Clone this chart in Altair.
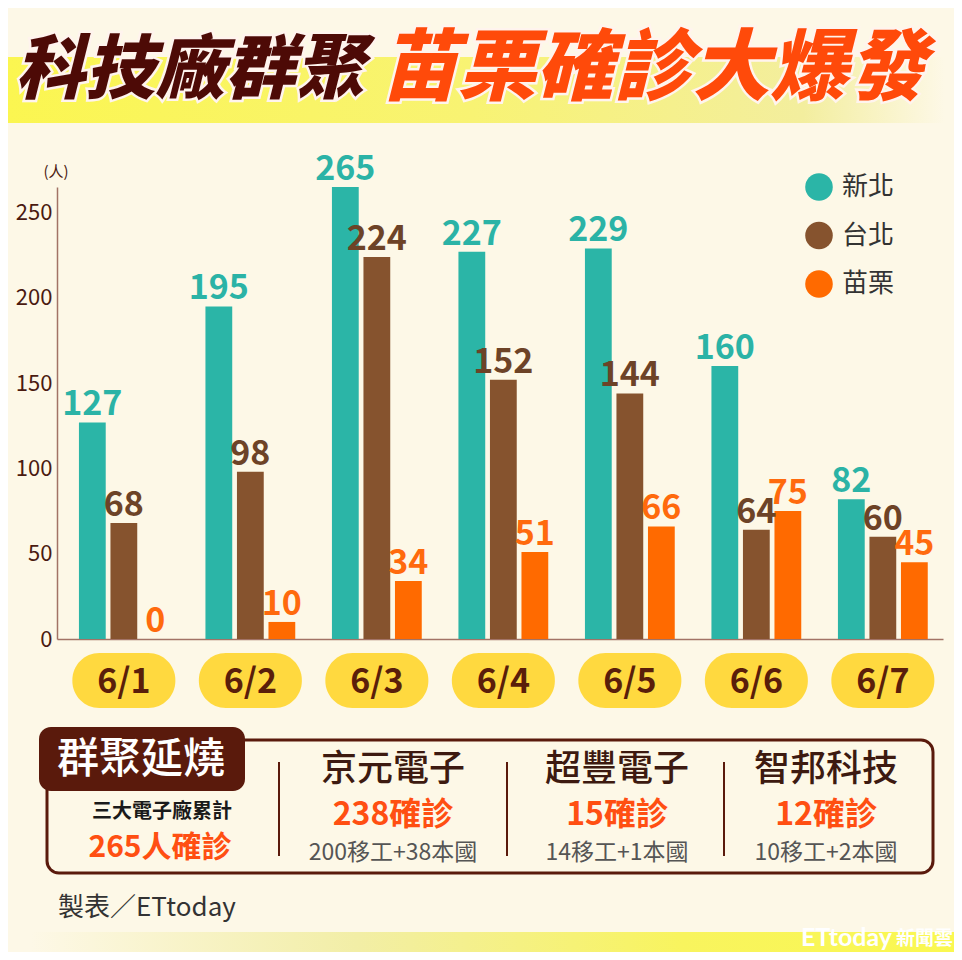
import altair as alt
import pandas as pd

# ---------------- data ----------------
dates = ["6/1", "6/2", "6/3", "6/4", "6/5", "6/6", "6/7"]
series = ["新北", "台北", "苗栗"]
new_taipei = [127, 195, 265, 227, 229, 160, 82]
taipei = [68, 98, 224, 152, 144, 64, 60]
miaoli = [0, 10, 34, 51, 66, 75, 45]
y_ticks = [0, 50, 100, 150, 200, 250]

title_left = "科技廠群聚"
title_right = "苗栗確診大爆發"
unit_label = "(人)"
box_tab = "群聚延燒"
box_sub = "三大電子廠累計"
box_total = "265人確診"
companies = ["京元電子", "超豐電子", "智邦科技"]
company_cases = ["238確診", "15確診", "12確診"]
company_breakdown = ["200移工+38本國", "14移工+1本國", "10移工+2本國"]
source_text = "製表／ETtoday"
logo_a = "ETtoday"
logo_b = "新聞雲"

rows = []
for name, vals in zip(series, [new_taipei, taipei, miaoli]):
    for d, v in zip(dates, vals):
        rows.append({"date": d, "series": name, "value": v})
df = pd.DataFrame(rows)
pill_df = pd.DataFrame({"date": dates})

# ---------------- style ----------------
CJK = "Noto Sans CJK TC"
BG = "#FDF8E7"
MAROON = "#5A1A0C"
TEAL = "#2BB5A7"
BROWN = "#86532E"
ORANGE = "#FF6A00"
AX = "#A27366"

X0, Y0 = 57, 187          # page position of plot origin
W, H = 886, 452
TOTAL_W, TOTAL_H = 946, 944


def px(X):
    return X - X0


def py(Y):
    return Y - Y0


def txt(s, X, Y, size, color, weight="normal", align="center", baseline="middle", **kw):
    return alt.Chart(pd.DataFrame({"t": [s]})).mark_text(
        fontSize=size, color=color, fontWeight=weight, align=align,
        baseline=baseline, font=kw.pop("font", CJK), **kw
    ).encode(x=alt.value(px(X)), y=alt.value(py(Y)), text="t:N")


def box(X1, X2, Y1, Y2, **kw):
    return alt.Chart(pd.DataFrame({"t": [0]})).mark_rect(**kw).encode(
        x=alt.value(px(X1)), x2=alt.value(px(X2)),
        y=alt.value(py(Y1)), y2=alt.value(py(Y2)))


def vrule(X, Y1, Y2, color, width):
    return alt.Chart(pd.DataFrame({"t": [0]})).mark_rule(color=color, strokeWidth=width).encode(
        x=alt.value(px(X)), y=alt.value(py(Y1)), y2=alt.value(py(Y2)))


layers = []

# header band
top_grad = alt.Gradient(
    gradient="linear", x1=0, x2=1, y1=0, y2=0,
    stops=[alt.GradientStop(color="#FBF650", offset=0),
           alt.GradientStop(color="#F8F373", offset=0.5),
           alt.GradientStop(color="#F3EE9E", offset=0.85),
           alt.GradientStop(color=BG, offset=1)])
layers.append(box(0, 945, 57, 123, color=top_grad))

bot_grad = alt.Gradient(
    gradient="linear", x1=0, x2=1, y1=0, y2=0,
    stops=[alt.GradientStop(color=BG, offset=0),
           alt.GradientStop(color="#F2EEA6", offset=0.35),
           alt.GradientStop(color="#F8F45E", offset=0.7),
           alt.GradientStop(color="#FAF850", offset=1)])
layers.append(box(30, 962, 932, 960, color=bot_grad))

# title
layers.append(txt(title_left, 15, 72, 70, "#FFFFFF", weight=900, align="left",
                  fontStyle="italic", stroke="#FFF4EE", strokeWidth=5))
layers.append(txt(title_left, 15, 72, 70, "#4D0A06", weight=900, align="left", fontStyle="italic"))
layers.append(txt(title_right, 380, 71, 78, "#FFFFFF", weight=900, align="left",
                  fontStyle="italic", stroke="#FFF4EE", strokeWidth=5))
layers.append(txt(title_right, 380, 71, 78, "#FF4A0A", weight=900, align="left", fontStyle="italic"))

# unit
layers.append(txt(unit_label, 56, 172, 15, "#4A1A10"))

# ---------------- bars ----------------
x_enc = alt.X("date:N", sort=dates,
              scale=alt.Scale(paddingInner=0.29, paddingOuter=0.147, align=0.59),
              axis=alt.Axis(labels=False, ticks=False, title=None,
                            domainColor=AX, domainWidth=1.5))
xoff = alt.XOffset("series:N", sort=series, scale=alt.Scale(paddingInner=0.15))
y_enc = alt.Y("value:Q", scale=alt.Scale(domain=[0, 265], nice=False),
              axis=alt.Axis(values=y_ticks, ticks=False, grid=False, title=None,
                            labelPadding=5, labelFontSize=22, labelColor="#4A1A10",
                            labelFont=CJK, domainColor=AX, domainWidth=1.5))

bars = alt.Chart(df).mark_bar().encode(
    x=x_enc, xOffset=xoff, y=y_enc,
    color=alt.Color("series:N", sort=series,
                    scale=alt.Scale(domain=series, range=[TEAL, BROWN, ORANGE]),
                    legend=alt.Legend(orient="none", legendX=px(805), legendY=py(173),
                                      title=None, symbolType="circle", symbolSize=760,
                                      symbolStrokeWidth=0, labelFontSize=26,
                                      labelFont=CJK, labelColor="#333333",
                                      rowPadding=20.5, labelOffset=9)))
layers.append(bars)

labels = alt.Chart(df).mark_text(baseline="alphabetic", dy=-7, fontSize=34,
                                 fontWeight="bold", font=CJK).encode(
    x=x_enc, xOffset=xoff, y=y_enc, text="value:Q",
    color=alt.Color("series:N", sort=series,
                    scale=alt.Scale(domain=series, range=["#2BB3A6", "#6D4327", "#FF6A0D"]),
                    legend=None))
layers.append(labels)

# date pills
pills = alt.Chart(pill_df).mark_bar(width=103, cornerRadius=27, color="#FFD93F").encode(
    x=x_enc, y=alt.value(py(653)), y2=alt.value(py(708)))
pill_txt = alt.Chart(pill_df).mark_text(fontSize=34, fontWeight="bold", font=CJK,
                                        color="#5A1E0A", baseline="middle").encode(
    x=x_enc, y=alt.value(py(683)), text="date:N")
layers += [pills, pill_txt]

# ---------------- info box ----------------
layers.append(box(47, 933, 740, 873, cornerRadius=12, fill=BG, stroke=MAROON, strokeWidth=3))
layers.append(box(39, 245, 727, 791, cornerRadius=12, color=MAROON))
layers.append(txt(box_tab, 141, 760, 42, "#FFFFFF", weight=500))
layers.append(txt(box_sub, 162, 812, 20, "#1A1A1A", weight="bold"))
layers.append(txt(box_total, 160, 848, 30, "#FF4F12", weight="bold"))
for X in [279, 507, 724]:
    layers.append(vrule(X, 762, 856, MAROON, 2))
for cx, name, c, b in zip([393, 617, 826], companies, company_cases, company_breakdown):
    layers.append(txt(name, cx, 770, 36, "#3D1A10", weight=500))
    layers.append(txt(c, cx, 815, 32, "#FF4F12", weight="bold"))
    layers.append(txt(b, cx, 853, 23, "#555555"))

# footer
layers.append(txt(source_text, 58, 908, 26, "#333333", align="left"))
layers.append(txt(logo_a, 892, 938, 25, "#FFFFFF", weight="bold", align="right", font="Lato"))
layers.append(txt(logo_b, 953, 939, 19, "#FFFFFF", weight="bold", align="right"))

chart = alt.layer(*layers).resolve_scale(color="independent").properties(
    width=W, height=H,
    padding={"left": X0 - 8, "top": Y0 - 8,
             "right": TOTAL_W - (X0 - 8) - W, "bottom": TOTAL_H - (Y0 - 8) - H},
    autosize=alt.AutoSizeParams(type="none"),
).configure(background=BG).configure_view(strokeWidth=0)

chart.save("out.html", embed_options={"renderer": "svg", "actions": False})
